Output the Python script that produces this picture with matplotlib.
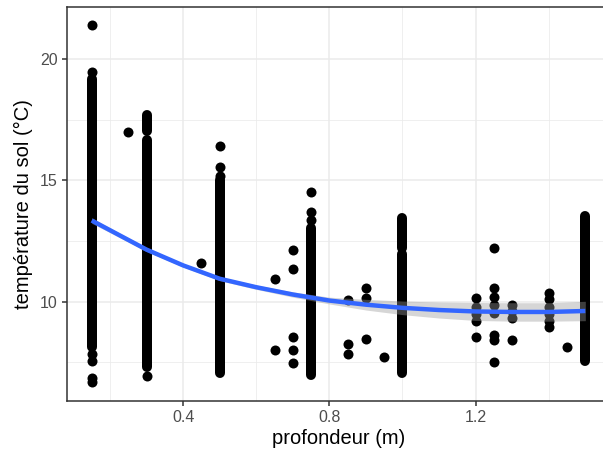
import matplotlib
matplotlib.use("Agg")
import matplotlib.pyplot as plt
import numpy as np

plt.rcParams["font.family"] = ["Liberation Sans", "DejaVu Sans"]

# depth columns with an unbroken run of readings: (depth, low, high)
run_depth = [0.15, 0.30, 0.30, 0.50, 0.75, 1.00, 1.00, 1.50]
run_low = [8.15, 17.05, 7.30, 7.08, 7.00, 12.20, 7.08, 7.55]
run_high = [19.20, 17.70, 16.65, 15.00, 13.05, 13.45, 11.95, 13.55]

# readings standing apart from the runs
pt_depth = ([0.15] * 6 + [0.25] + [0.30] + [0.45] + [0.50] * 3 + [0.65] * 2
            + [0.70] * 5 + [0.75] * 3 + [0.85] * 3 + [0.90] * 3 + [0.95]
            + [1.20] * 5 + [1.25] * 8 + [1.30] * 4 + [1.40] * 6 + [1.45])
pt_temp = ([21.4, 19.47, 7.85, 7.55, 6.87, 6.70] + [17.0] + [6.95] + [11.6]
           + [15.2, 15.55, 16.42] + [10.95, 8.02]
           + [12.14, 11.36, 8.56, 8.02, 7.49] + [13.37, 13.7, 14.53]
           + [10.08, 8.27, 7.86] + [10.58, 10.16, 8.48] + [7.74]
           + [10.15, 9.8, 9.5, 9.2, 8.55]
           + [12.22, 10.58, 10.2, 9.88, 9.55, 8.64, 8.44, 7.53]
           + [9.88, 9.6, 9.34, 8.44]
           + [10.35, 10.1, 9.8, 9.5, 9.2, 8.95] + [8.15])

# loess fit and its confidence band
fit_depth = [0.15, 0.2, 0.3, 0.4, 0.5, 0.6, 0.7, 0.8, 0.9, 1.0, 1.1, 1.2, 1.3, 1.4, 1.5]
fit_temp = [13.35, 12.95, 12.15, 11.5, 10.95, 10.6, 10.3, 10.05, 9.88, 9.75,
            9.66, 9.6, 9.58, 9.58, 9.62]
fit_se = [0.12, 0.1, 0.08, 0.07, 0.08, 0.09, 0.11, 0.14, 0.22, 0.28,
          0.33, 0.37, 0.38, 0.38, 0.4]

fig = plt.figure(figsize=(6.03, 4.61), dpi=100)
ax = fig.add_axes([67 / 603, 60 / 461, 543 / 603, 394 / 461])

dot = 7.2  # point diameter in pt
ax.vlines(run_depth, run_low, run_high, colors="black", linewidth=dot,
          capstyle="round", zorder=3)
ax.scatter(pt_depth, pt_temp, s=dot ** 2, color="black", linewidths=0, zorder=3)

lo = np.array(fit_temp) - np.array(fit_se)
hi = np.array(fit_temp) + np.array(fit_se)
ax.fill_between(fit_depth, lo, hi, color="#999999", alpha=0.4, linewidth=0, zorder=4)
ax.plot(fit_depth, fit_temp, color="#3366FF", linewidth=3.2, zorder=5,
        solid_capstyle="butt")

ax.set_xlim(0.0825, 1.5675)
ax.set_ylim(5.91, 22.15)
ax.set_xticks([0.4, 0.8, 1.2])
ax.set_xticks([0.2, 0.6, 1.0, 1.4], minor=True)
ax.set_yticks([10, 15, 20])
ax.set_yticks([7.5, 12.5, 17.5], minor=True)
ax.set_xticklabels(["0.4", "0.8", "1.2"])
ax.set_yticklabels(["10", "15", "20"])

ax.grid(which="major", color="#EBEBEB", linewidth=1.1, zorder=0)
ax.grid(which="minor", color="#EBEBEB", linewidth=0.55, zorder=0)
ax.set_axisbelow(True)
for s in ax.spines.values():
    s.set_color("#333333")
    s.set_linewidth(1.1)
ax.tick_params(which="major", length=3.5, width=1.1, color="#333333",
               labelcolor="#4D4D4D", labelsize=11.5, pad=3)
ax.tick_params(which="minor", length=0)

ax.set_xlabel("profondeur (m)", fontsize=14.5, color="black", labelpad=3)
ax.set_ylabel("température du sol (°C)", fontsize=14.5, color="black", labelpad=5)

fig.savefig("out.png", dpi=100)
